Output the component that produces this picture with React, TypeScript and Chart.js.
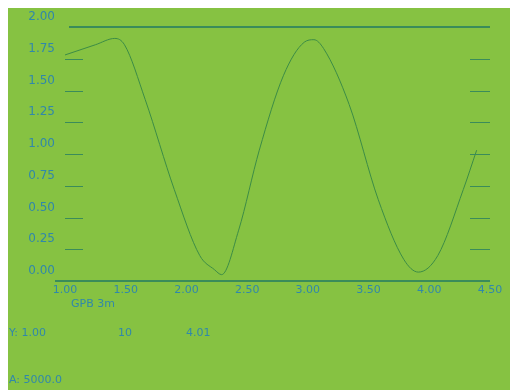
import React, { useEffect, useRef } from "react";
import { Chart, registerables } from "chart.js";

Chart.register(...registerables);

const xValues = [1.0, 1.25, 1.41, 1.49, 1.66, 1.9, 2.11, 2.23, 2.29, 2.43, 2.6, 2.8, 2.97, 3.05, 3.13, 3.34, 3.58, 3.79, 3.91, 4.07, 4.28, 4.39];
const yValues = [1.78, 1.86, 1.91, 1.86, 1.43, 0.72, 0.2, 0.09, 0.05, 0.4, 1.03, 1.62, 1.88, 1.9, 1.83, 1.39, 0.64, 0.17, 0.07, 0.2, 0.72, 1.03];
const xTicks = [1.0, 1.5, 2.0, 2.5, 3.0, 3.5, 4.0, 4.5];
const yTicks = [0, 0.25, 0.5, 0.75, 1.0, 1.25, 1.5, 1.75, 2.0];
const xTitle = "GPB 3m";
const footerRow1 = ["Y: 1.00", "10", "4.01"];
const footerRow2 = "A: 5000.0";

const BG = "rgb(134,194,66)";
const AXIS = "rgb(58,140,90)";
const TEXT = "rgb(48,136,170)";
const LINE = "rgb(60,140,70)";

export default function App() {
  const ref = useRef<HTMLCanvasElement | null>(null);
  useEffect(() => {
    if (!ref.current) return;
    const decor = {
      id: "decor",
      afterDraw(chart: any) {
        const { ctx, chartArea } = chart;
        const y = chart.scales.y;
        ctx.save();
        ctx.strokeStyle = AXIS;
        ctx.lineWidth = 2;
        ctx.beginPath();
        ctx.moveTo(chartArea.left + 4, chartArea.top);
        ctx.lineTo(chartArea.right, chartArea.top);
        ctx.stroke();
        ctx.beginPath();
        ctx.moveTo(chartArea.left - 10, chartArea.bottom);
        ctx.lineTo(chartArea.right, chartArea.bottom);
        ctx.stroke();
        ctx.lineWidth = 1;
        yTicks.slice(1, -1).forEach((v) => {
          const py = Math.round(y.getPixelForValue(v)) + 0.5;
          ctx.beginPath();
          ctx.moveTo(chartArea.left, py);
          ctx.lineTo(chartArea.left + 18, py);
          ctx.moveTo(chartArea.right - 20, py);
          ctx.lineTo(chartArea.right, py);
          ctx.stroke();
        });
        ctx.fillStyle = TEXT;
        ctx.font = "11px 'DejaVu Sans', sans-serif";
        ctx.textBaseline = "middle";
        ctx.textAlign = "left";
        ctx.fillText(xTitle, chartArea.left + 6, chartArea.bottom + 23);
        ctx.fillText(footerRow1[0], 1, chartArea.bottom + 52);
        ctx.fillText(footerRow1[1], 110, chartArea.bottom + 52);
        ctx.fillText(footerRow1[2], 178, chartArea.bottom + 52);
        ctx.fillText(footerRow2, 1, chartArea.bottom + 99);
        ctx.restore();
      },
    };
    const chart = new Chart(ref.current, {
      type: "line",
      data: {
        datasets: [
          {
            data: xValues.map((x, i) => ({ x, y: yValues[i] })),
            borderColor: LINE,
            borderWidth: 1,
            pointRadius: 0,
            cubicInterpolationMode: "monotone",
            fill: false,
          },
        ],
      },
      options: {
        animation: false,
        responsive: true,
        maintainAspectRatio: false,
        layout: { padding: { top: 19, left: 0, right: 0, bottom: 0 } },
        plugins: { legend: { display: false }, tooltip: { enabled: false } },
        scales: {
          x: {
            type: "linear",
            min: 1,
            max: 4.5,
            afterBuildTicks: (s: any) => {
              s.ticks = xTicks.map((v) => ({ value: v }));
            },
            afterFit: (s: any) => {
              s.height = 109;
            },
            grid: { display: false, drawTicks: false },
            border: { display: false },
            ticks: {
              color: TEXT,
              padding: 3,
              maxRotation: 0,
              autoSkip: false,
              font: { size: 11, family: "'DejaVu Sans', sans-serif" },
              callback: (v: any) => Number(v).toFixed(2),
            },
          },
          y: {
            min: 0,
            max: 2,
            afterBuildTicks: (s: any) => {
              s.ticks = yTicks.map((v) => ({ value: v }));
            },
            afterFit: (s: any) => {
              s.width = 57;
            },
            grid: { display: false, drawTicks: false },
            border: { display: false },
            ticks: {
              color: TEXT,
              padding: 10,
              labelOffset: -10,
              font: { size: 12, family: "'DejaVu Sans', sans-serif" },
              callback: (v: any) => Number(v).toFixed(2),
            },
          },
          y2: {
            position: "right",
            min: 0,
            max: 2,
            afterFit: (s: any) => {
              s.width = 20;
            },
            grid: { display: false, drawTicks: false },
            border: { display: false },
            ticks: { display: false },
          },
        },
      },
      plugins: [decor],
    });
    return () => chart.destroy();
  }, []);
  return (
    <div style={{ position: "fixed", left: 8, top: 8, width: 502, height: 382, background: BG }}>
      <canvas ref={ref} />
    </div>
  );
}
